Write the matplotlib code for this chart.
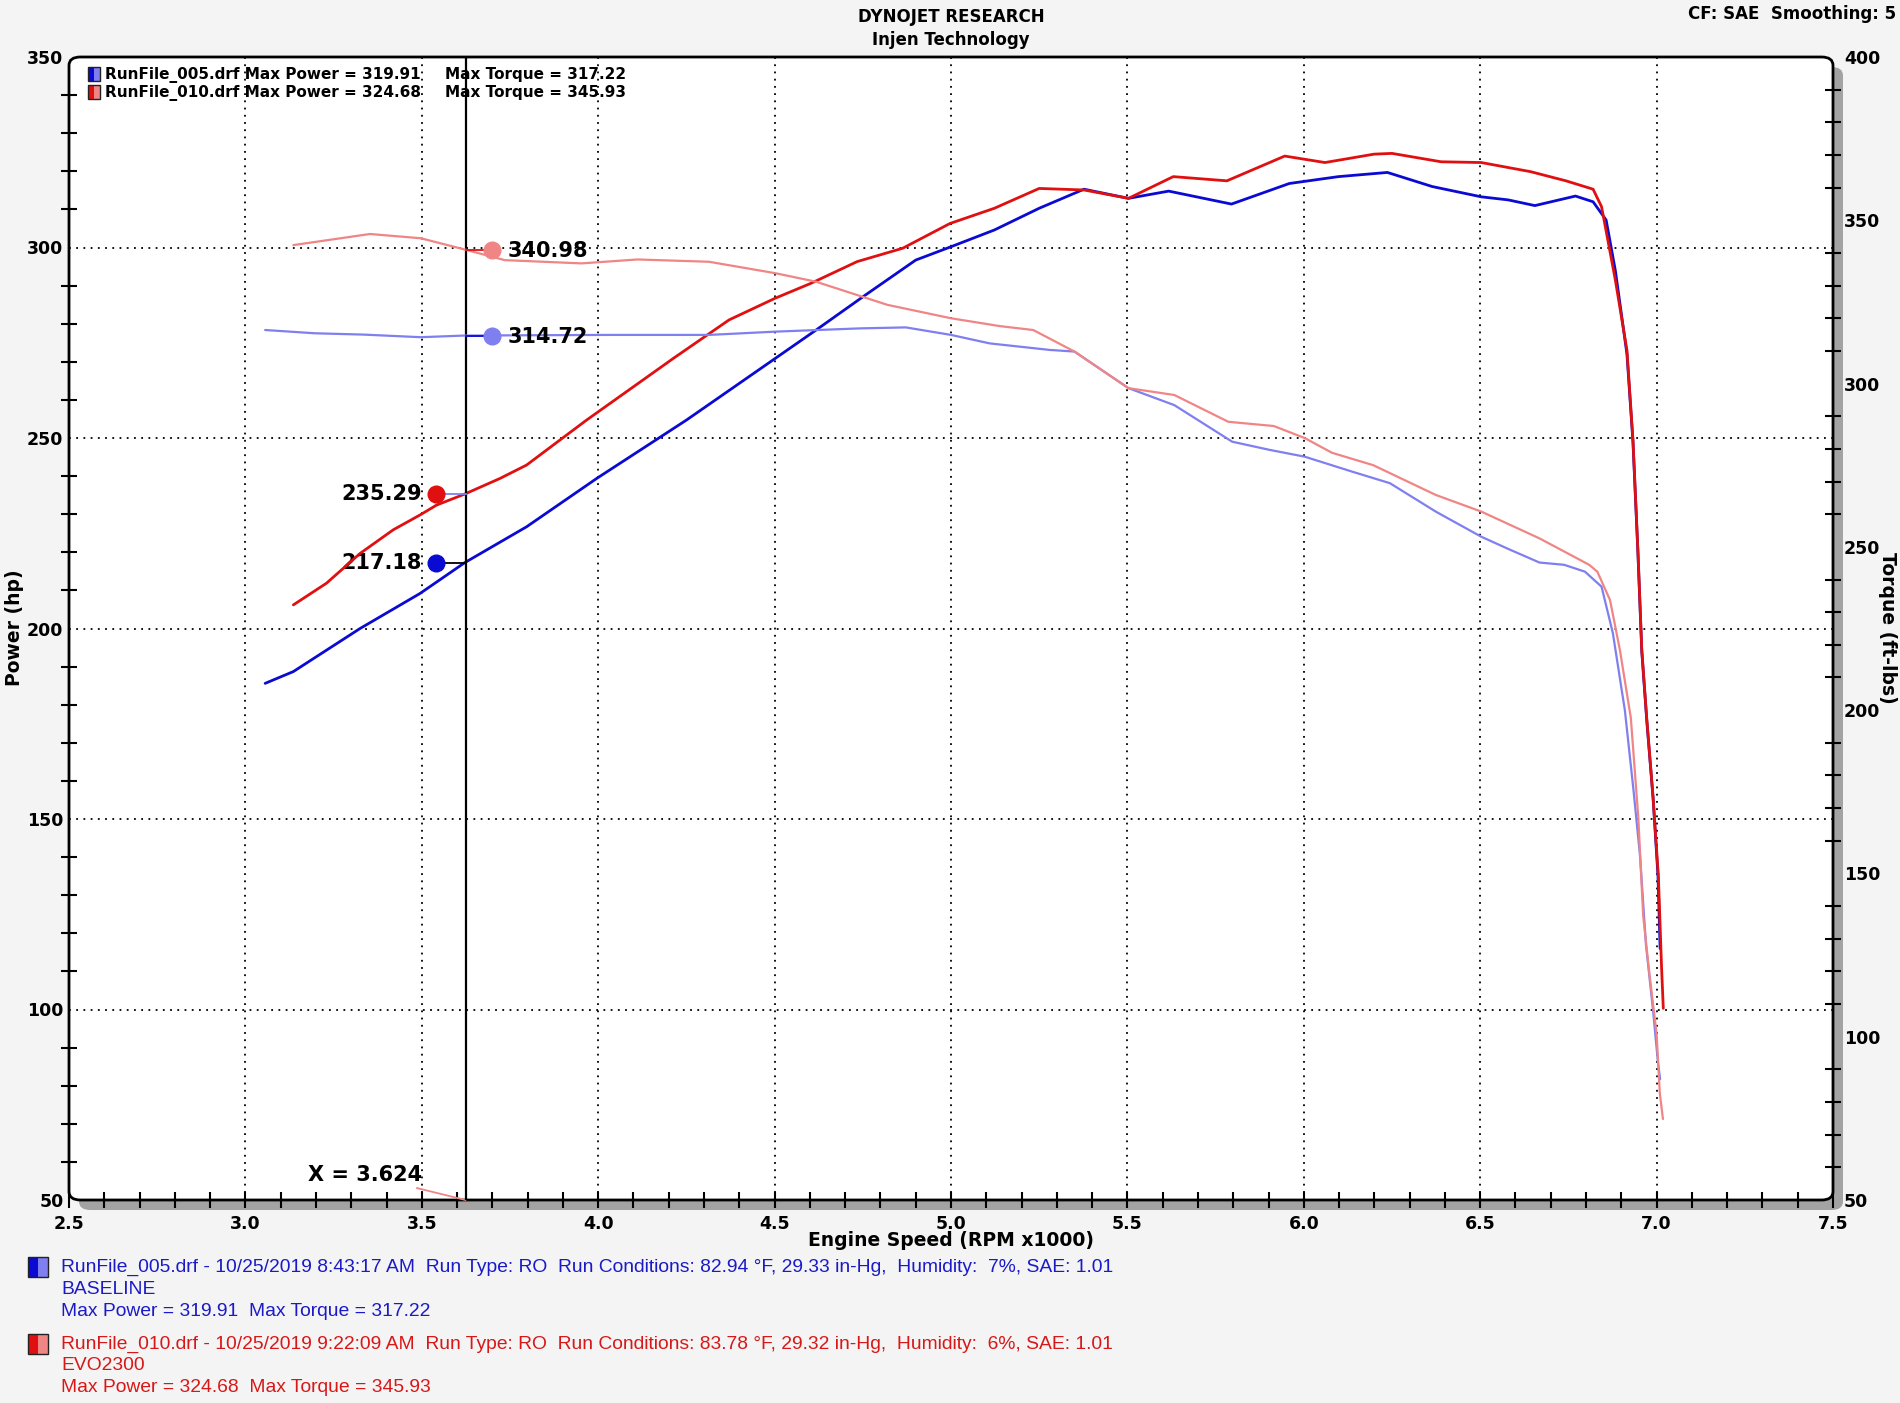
import matplotlib
matplotlib.use("Agg")
import matplotlib.pyplot as plt
from matplotlib.patches import FancyBboxPatch, Rectangle
from matplotlib.ticker import MultipleLocator
import numpy as np

# ---- data ----
rpm_pw_005 = [3.056, 3.136, 3.325, 3.495, 3.622, 3.797, 3.996, 4.25, 4.502, 4.617, 4.757, 4.9,
              5.0, 5.123, 5.25, 5.377, 5.503, 5.617, 5.795, 5.959, 6.098, 6.237, 6.364, 6.503,
              6.579, 6.655, 6.77, 6.82, 6.857, 6.883, 6.916, 6.933, 6.947, 6.958, 6.972, 6.99,
              7.004, 7.01]
pw_005 = [185.6, 188.7, 200.0, 209.2, 217.3, 226.7, 239.4, 254.7, 270.9, 278.3, 287.5, 296.7,
          300.2, 304.6, 310.3, 315.3, 312.9, 314.8, 311.4, 316.8, 318.6, 319.7, 316.0, 313.3,
          312.5, 311.0, 313.5, 312.0, 307.2, 294.0, 272.0, 249.0, 220.0, 194.0, 176.0, 155.5,
          135.0, 116.0]

rpm_pw_010 = [3.136, 3.23, 3.325, 3.419, 3.495, 3.542, 3.622, 3.722, 3.797, 3.892, 3.967, 4.213,
              4.371, 4.502, 4.603, 4.734, 4.863, 4.997, 5.123, 5.25, 5.377, 5.503, 5.63, 5.782,
              5.946, 6.06, 6.199, 6.25, 6.389, 6.503, 6.643, 6.743, 6.82, 6.844, 6.883, 6.916,
              6.933, 6.947, 6.958, 6.972, 6.99, 7.005, 7.014, 7.019]
pw_010 = [206.2, 211.9, 219.7, 225.9, 229.8, 232.4, 235.3, 239.4, 242.9, 249.5, 254.7, 270.9,
          281.0, 286.7, 290.6, 296.3, 299.8, 306.3, 310.3, 315.5, 315.1, 312.9, 318.6, 317.5,
          324.0, 322.3, 324.5, 324.7, 322.5, 322.3, 319.9, 317.5, 315.3, 310.7, 291.5, 273.0,
          249.5, 220.6, 194.4, 176.5, 155.7, 135.0, 111.2, 100.3]

rpm_tq_005 = [3.056, 3.197, 3.334, 3.497, 3.62, 4.025, 4.314, 4.502, 4.742, 4.872, 5.0, 5.11,
              5.28, 5.35, 5.503, 5.633, 5.797, 5.903, 6.003, 6.138, 6.244, 6.374, 6.503, 6.585,
              6.668, 6.738, 6.797, 6.844, 6.876, 6.91, 6.935, 6.953, 6.97, 6.99, 7.004, 7.01]
tq_005 = [316.4, 315.4, 315.0, 314.2, 314.7, 314.9, 314.9, 315.9, 316.9, 317.2, 314.9, 312.3,
          310.3, 309.8, 298.6, 293.4, 282.2, 279.7, 277.6, 273.0, 269.5, 260.8, 253.1, 249.1,
          245.2, 244.5, 242.4, 237.8, 223.6, 200.0, 175.0, 155.4, 128.0, 108.0, 92.0, 87.0]

rpm_tq_010 = [3.136, 3.353, 3.497, 3.62, 3.735, 3.953, 4.111, 4.314, 4.502, 4.617, 4.82, 5.0,
              5.138, 5.233, 5.35, 5.503, 5.633, 5.786, 5.915, 6.003, 6.08, 6.197, 6.374, 6.503,
              6.668, 6.809, 6.832, 6.868, 6.896, 6.927, 6.948, 6.962, 6.98, 7.0, 7.009, 7.018]
tq_010 = [342.4, 345.8, 344.5, 341.1, 337.8, 336.8, 338.0, 337.3, 333.8, 331.2, 324.1, 320.0,
          317.6, 316.4, 309.8, 298.6, 296.5, 288.3, 287.0, 283.3, 278.8, 275.0, 265.9, 260.8,
          252.6, 244.5, 242.4, 233.7, 218.4, 197.6, 167.3, 137.0, 118.9, 100.9, 82.8, 74.8]

cursor_x = 3.624
cursor_pw = [217.18, 235.29]   # RunFile_005, RunFile_010
cursor_tq = [314.72, 340.98]

blue = "#0a0ad2"
red = "#e01010"
blue_lt = "#7f7ff0"
red_lt = "#f08585"

W, H = 1900, 1403
fig = plt.figure(figsize=(19, 14.03), dpi=100, facecolor="#f4f4f4")

# axes box in pixels
L, R, T, B = 69, 1833, 57, 1200
pos = [L / W, 1 - B / H, (R - L) / W, (B - T) / H]

# drop shadow + white rounded plot box
sh = 10
fig.patches.append(FancyBboxPatch(((L + sh) / W, 1 - (B + sh) / H), (R - L) / W, (B - T) / H,
                                  boxstyle="round,pad=0,rounding_size=0.006",
                                  transform=fig.transFigure, fc="#a3a3a3", ec="none", zorder=0))
fig.patches.append(FancyBboxPatch((L / W, 1 - B / H), (R - L) / W, (B - T) / H,
                                  boxstyle="round,pad=0,rounding_size=0.006",
                                  transform=fig.transFigure, fc="white", ec="black", lw=2, zorder=0.5))

ax = fig.add_axes(pos)
ax.patch.set_visible(False)
ax.set_zorder(1)
for s in ax.spines.values():
    s.set_visible(False)

ax.set_xlim(2.5, 7.5)
ax.set_ylim(50, 350)
ax2 = ax.twinx()
ax2.set_zorder(2)
ax2.patch.set_visible(False)
for s in ax2.spines.values():
    s.set_visible(False)

# grid
for gx in np.arange(3.0, 7.5, 0.5):
    ax.axvline(gx, color="black", ls=(0, (1, 3)), lw=1.3, zorder=1)
for gy in np.arange(100, 350, 50):
    ax.axhline(gy, color="black", ls=(0, (1, 3)), lw=1.3, zorder=1)

# ticks
ax.xaxis.set_minor_locator(MultipleLocator(0.1))
ax.yaxis.set_major_locator(MultipleLocator(50))
ax.yaxis.set_minor_locator(MultipleLocator(10))
ax2.yaxis.set_major_locator(MultipleLocator(50))
ax2.yaxis.set_minor_locator(MultipleLocator(10))
ax.set_xticks(np.arange(2.5, 7.51, 0.5))
ax.set_xticklabels([f"{v:.1f}" for v in np.arange(2.5, 7.51, 0.5)])
for a in (ax, ax2):
    a.tick_params(which="both", direction="inout", width=1.5, labelsize=12.5, colors="black")
    a.tick_params(which="major", length=0)
    a.tick_params(which="minor", length=11)
ax.tick_params(axis="x", which="major", length=11, pad=5)
ax.tick_params(axis="y", which="major", pad=4)
ax2.tick_params(axis="y", which="major", pad=8)
for lab in ax.get_xticklabels() + ax.get_yticklabels() + ax2.get_yticklabels():
    lab.set_fontweight("bold")

# curves
kw = dict(solid_joinstyle="round", solid_capstyle="round")
ax2.plot(rpm_tq_005, tq_005, color=blue_lt, lw=1.6, zorder=3, **kw)
ax2.plot(rpm_tq_010, tq_010, color=red_lt, lw=1.6, zorder=3, **kw)
ax.plot(rpm_pw_005, pw_005, color=blue, lw=2.0, zorder=4, **kw)
ax.plot(rpm_pw_010, pw_010, color=red, lw=2.0, zorder=4, **kw)

# cursor readout
ax.axvline(cursor_x, color="black", lw=1.6, zorder=5)
txt = dict(fontsize=15, fontweight="bold")
for val, mc, lc in zip(cursor_pw, [blue, red], ["black", blue_lt]):
    ax.plot([cursor_x - 0.084, cursor_x], [val, val], color=lc, lw=1.3, zorder=5)
    ax.plot(cursor_x - 0.084, val, "o", ms=12, color=mc, zorder=6)
    ax.annotate(f"{val:.2f}", (cursor_x - 0.084, val), xytext=(-10, 0), textcoords="offset points",
                ha="right", va="center", **txt)
for val, mc, lc in zip(cursor_tq, [blue_lt, red_lt], [blue, red]):
    ax2.plot([cursor_x, cursor_x + 0.075], [val, val], color=lc, lw=1.3, zorder=5)
    ax2.plot(cursor_x + 0.075, val, "o", ms=12, color=mc, zorder=6)
    ax2.annotate(f"{val:.2f}", (cursor_x + 0.075, val), xytext=(11, -1), textcoords="offset points",
                 ha="left", va="center", **txt)
ax2.set_ylim(50, 400)

ax.annotate(f"X = {cursor_x:.3f}", xy=(cursor_x, 50), xytext=(3.5, 56.5), ha="right", va="center",
            fontsize=15, fontweight="bold", annotation_clip=False,
            arrowprops=dict(arrowstyle="-", color=red_lt, lw=1.3, shrinkA=0, shrinkB=0))

# axis labels
fig.text(951 / W, 1 - 1240 / H, "Engine Speed (RPM x1000)", ha="center", va="center",
         fontsize=13.5, fontweight="bold")
fig.text(15 / W, 1 - 628 / H, "Power (hp)", rotation=90, ha="center", va="center",
         fontsize=13.5, fontweight="bold")
fig.text(1888 / W, 1 - 628 / H, "Torque (ft-lbs)", rotation=-90, ha="center", va="center",
         fontsize=13.5, fontweight="bold")

# header
fig.text(951 / W, 1 - 17 / H, "DYNOJET RESEARCH", ha="center", va="center", fontsize=12, fontweight="bold")
fig.text(951 / W, 1 - 40 / H, "Injen Technology", ha="center", va="center", fontsize=12, fontweight="bold")
fig.text(1896 / W, 1 - 14 / H, "CF: SAE  Smoothing: 5", ha="right", va="center", fontsize=12, fontweight="bold")


def icon(x, y, w, h, dark, light):
    fig.patches.append(Rectangle((x / W, 1 - (y + h) / H), w / 2 / W, h / H, transform=fig.transFigure,
                                 fc=dark, ec="none", zorder=10))
    fig.patches.append(Rectangle(((x + w / 2) / W, 1 - (y + h) / H), w / 2 / W, h / H,
                                 transform=fig.transFigure, fc=light, ec="none", zorder=10))
    fig.patches.append(Rectangle((x / W, 1 - (y + h) / H), w / W, h / H, transform=fig.transFigure,
                                 fc="none", ec="#222222", lw=1, zorder=11))


# top-left legend
runs = ["RunFile_005.drf", "RunFile_010.drf"]
max_power = [319.91, 324.68]
max_torque = [317.22, 345.93]
for i, (run, mp, mt, dk, lt) in enumerate(zip(runs, max_power, max_torque, [blue, red], [blue_lt, red_lt])):
    yy = 75 + 18 * i
    icon(88, yy - 8, 12, 14, dk, lt)
    fig.text(105 / W, 1 - yy / H, f"{run} Max Power = {mp:.2f}", ha="left", va="center",
             fontsize=11, fontweight="bold", zorder=12)
    fig.text(445 / W, 1 - yy / H, f"Max Torque = {mt:.2f}", ha="left", va="center",
             fontsize=11, fontweight="bold", zorder=12)

# bottom run info
info = [
    ["RunFile_005.drf - 10/25/2019 8:43:17 AM  Run Type: RO  Run Conditions: 82.94 °F, 29.33 in-Hg,  Humidity:  7%, SAE: 1.01",
     "BASELINE", "Max Power = 319.91  Max Torque = 317.22"],
    ["RunFile_010.drf - 10/25/2019 9:22:09 AM  Run Type: RO  Run Conditions: 83.78 °F, 29.32 in-Hg,  Humidity:  6%, SAE: 1.01",
     "EVO2300", "Max Power = 324.68  Max Torque = 345.93"],
]
for i, (lines, dk, lt, tc) in enumerate(zip(info, [blue, red], [blue_lt, red_lt], ["#1a1ac8", "#d81818"])):
    y0 = 1267 + 77 * i
    icon(28, y0 - 10, 20, 20, dk, lt)
    for j, s in enumerate(lines):
        fig.text(61 / W, 1 - (y0 + 22 * j) / H, s, ha="left", va="center", fontsize=13.9,
                 family="Liberation Sans", color=tc)

fig.savefig("out.png", dpi=100, facecolor=fig.get_facecolor())
